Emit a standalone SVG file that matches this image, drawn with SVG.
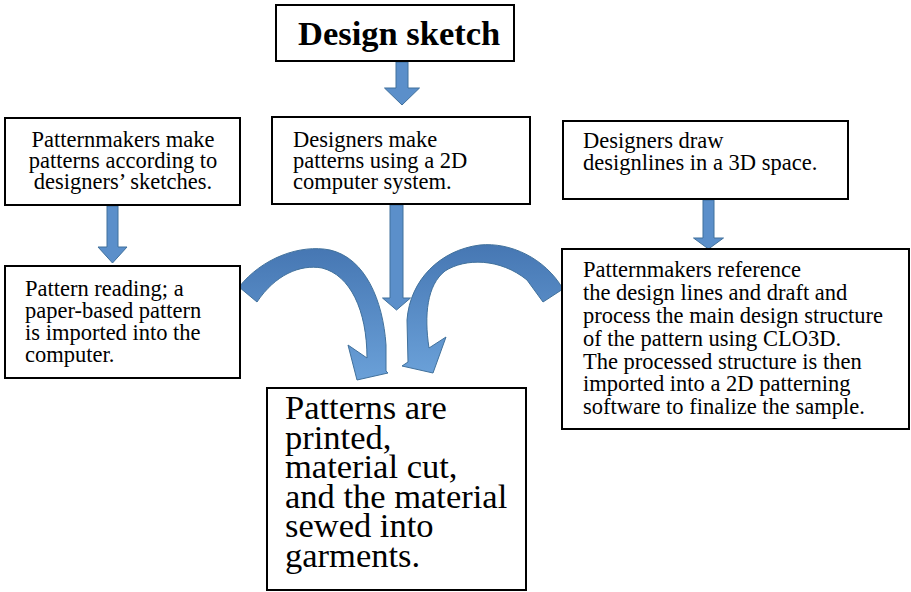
<svg xmlns="http://www.w3.org/2000/svg" width="911" height="592" viewBox="0 0 911 592">
<defs>
<linearGradient id="cg" x1="0" y1="0" x2="0" y2="1">
<stop offset="0" stop-color="#4677b3"/>
<stop offset="1" stop-color="#6aa0d8"/>
</linearGradient>
<style>
.box{fill:#fff;stroke:#000;stroke-width:2}
.arr{fill:#5b8fca;stroke:#41719c;stroke-width:1}
.carr{fill:url(#cg);stroke:#41719c;stroke-width:1}
</style>
</defs>
<rect width="911" height="592" fill="#fff"/>
<g id="connectors">
<path class="carr" d="M 239,287 C 262,258 300,244 330,250 C 365,258 383,300 386,345 L 386,371 L 388,373 L 357,380 L 348,345 L 367,358 C 367,310 350,275 322,268 C 300,264 275,275 257,302 Z"/>
<path class="carr" d="M 563,289 C 545,258 510,242 480,245 C 440,250 410,280 407,320 L 408,362 L 402,366 L 433,373 L 446,337 L 429,348 C 424,315 427,285 445,271 C 465,258 500,258 527,280 L 543,302 Z"/>
<polygon class="arr" points="396,62 408,62 408,88 419.5,88 402,105 384.5,88 396,88"/>
<polygon class="arr" points="107,206 118,206 118,247 127,247 112.5,263 98,247 107,247"/>
<polygon class="arr" points="390,205 403,205 403,298 410.5,298 396.5,310 382.5,298 390,298"/>
<polygon class="arr" points="703,200 714,200 714,238 723.5,238 708.5,249 693.5,238 703,238"/>
</g>
<g id="n-design-sketch">
<rect class="box" x="276" y="5" width="238" height="56"/>
<text x="298" y="45" font-family="Liberation Serif, Times New Roman, serif" font-size="34.5" font-weight="bold">Design sketch</text>
</g>
<g id="n-patternmakers-make">
<rect class="box" x="5" y="118" width="235" height="87"/>
<text font-family="Liberation Serif, Times New Roman, serif" font-size="22.5" text-anchor="middle"><tspan x="123" y="147">Patternmakers make</tspan><tspan x="123" y="168">patterns according to</tspan><tspan x="123" y="189">designers’ sketches.</tspan></text>
</g>
<g id="n-designers-2d">
<rect class="box" x="272" y="117" width="258" height="87"/>
<text font-family="Liberation Serif, Times New Roman, serif" font-size="22.5"><tspan x="293" y="147">Designers make</tspan><tspan x="293" y="168">patterns using a 2D</tspan><tspan x="293" y="188.5">computer system.</tspan></text>
</g>
<g id="n-designers-3d">
<rect class="box" x="563" y="121" width="285" height="78"/>
<text font-family="Liberation Serif, Times New Roman, serif" font-size="22.5"><tspan x="583" y="148">Designers draw</tspan><tspan x="583" y="170">designlines in a 3D space.</tspan></text>
</g>
<g id="n-pattern-reading">
<rect class="box" x="5" y="266" width="235" height="112"/>
<text font-family="Liberation Serif, Times New Roman, serif" font-size="22.5"><tspan x="25" y="296">Pattern reading; a</tspan><tspan x="25" y="318">paper-based pattern</tspan><tspan x="25" y="340">is imported into the</tspan><tspan x="25" y="362">computer.</tspan></text>
</g>
<g id="n-clo3d">
<rect class="box" x="562" y="249" width="347" height="180"/>
<text font-family="Liberation Serif, Times New Roman, serif" font-size="22.5"><tspan x="583" y="277">Patternmakers reference</tspan><tspan x="583" y="300">the design lines and draft and</tspan><tspan x="583" y="322.5">process the main design structure</tspan><tspan x="583" y="345.5">of the pattern using CLO3D.</tspan><tspan x="583" y="368.5">The processed structure is then</tspan><tspan x="583" y="391">imported into a 2D patterning</tspan><tspan x="583" y="414">software to finalize the sample.</tspan></text>
</g>
<g id="n-printed">
<rect class="box" x="267" y="388" width="259" height="202"/>
<text font-family="Liberation Serif, Times New Roman, serif" font-size="34.5"><tspan x="285" y="419">Patterns are</tspan><tspan x="285" y="448.5">printed,</tspan><tspan x="285" y="478">material cut,</tspan><tspan x="285" y="507.5">and the material</tspan><tspan x="285" y="537">sewed into</tspan><tspan x="285" y="566.5">garments.</tspan></text>
</g>
</svg>
